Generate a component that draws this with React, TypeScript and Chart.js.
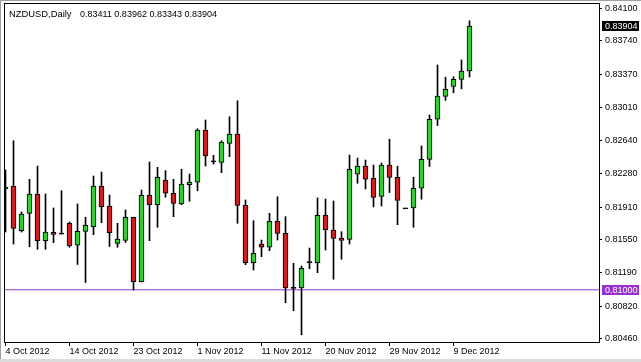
import React, { useEffect, useRef } from 'react';
import { Chart, registerables } from 'chart.js';

Chart.register(...registerables);

const FONT = '"Liberation Sans", Arial, Helvetica, sans-serif';

const symbolTitle = 'NZDUSD,Daily';
const titleValues = '0.83411 0.83962 0.83343 0.83904';

const dates = [
  '4 Oct 2012', '5 Oct 2012', '7 Oct 2012', '8 Oct 2012', '9 Oct 2012', '10 Oct 2012', '11 Oct 2012', '12 Oct 2012',
  '14 Oct 2012', '15 Oct 2012', '16 Oct 2012', '17 Oct 2012', '18 Oct 2012', '19 Oct 2012', '21 Oct 2012', '22 Oct 2012',
  '23 Oct 2012', '24 Oct 2012', '25 Oct 2012', '26 Oct 2012', '28 Oct 2012', '29 Oct 2012', '30 Oct 2012', '31 Oct 2012',
  '1 Nov 2012', '2 Nov 2012', '4 Nov 2012', '5 Nov 2012', '6 Nov 2012', '7 Nov 2012', '8 Nov 2012', '9 Nov 2012',
  '11 Nov 2012', '12 Nov 2012', '13 Nov 2012', '14 Nov 2012', '15 Nov 2012', '16 Nov 2012', '18 Nov 2012', '19 Nov 2012',
  '20 Nov 2012', '21 Nov 2012', '22 Nov 2012', '23 Nov 2012', '25 Nov 2012', '26 Nov 2012', '27 Nov 2012', '28 Nov 2012',
  '29 Nov 2012', '30 Nov 2012', '2 Dec 2012', '3 Dec 2012', '4 Dec 2012', '5 Dec 2012', '6 Dec 2012', '7 Dec 2012',
  '9 Dec 2012', '10 Dec 2012', '11 Dec 2012',
];

const opens = [
  0.82110, 0.82143, 0.81651, 0.81842, 0.82055, 0.81541, 0.81633, 0.81620,
  0.81732, 0.81490, 0.81644, 0.81695, 0.82143, 0.81923, 0.81512, 0.81543,
  0.81798, 0.81089, 0.82041, 0.81937, 0.82209, 0.82063, 0.81945, 0.82157,
  0.82184, 0.82760, 0.82415, 0.82404, 0.82613, 0.82716, 0.81930, 0.81298,
  0.81504, 0.81468, 0.81754, 0.81622, 0.81020, 0.81020, 0.81306, 0.81298,
  0.81824, 0.81658, 0.81570, 0.81556, 0.82272, 0.82363, 0.82228, 0.82027,
  0.82372, 0.82238, 0.81897, 0.81901, 0.82118, 0.82437, 0.82878, 0.83129,
  0.83239, 0.83318, 0.83411,
];

const highs = [
  0.82319, 0.82642, 0.81857, 0.82217, 0.82363, 0.82055, 0.81901, 0.82091,
  0.81747, 0.81945, 0.81798, 0.82253, 0.82297, 0.82044, 0.81732, 0.81879,
  0.81800, 0.82099, 0.82407, 0.82349, 0.82312, 0.82217, 0.82327, 0.82275,
  0.82774, 0.82870, 0.82481, 0.82642, 0.82906, 0.83082, 0.81989, 0.81761,
  0.81548, 0.81842, 0.82025, 0.81805, 0.81292, 0.81262, 0.81460, 0.82011,
  0.81999, 0.81978, 0.81640, 0.82484, 0.82451, 0.82429, 0.82374, 0.82396,
  0.82658, 0.82361, 0.81899, 0.82239, 0.82584, 0.82925, 0.83476, 0.83341,
  0.83346, 0.83531, 0.83962,
];

const lows = [
  0.81636, 0.81504, 0.81636, 0.81475, 0.81446, 0.81446, 0.81519, 0.81614,
  0.81468, 0.81279, 0.81080, 0.81607, 0.81739, 0.81477, 0.81468, 0.81521,
  0.80998, 0.81087, 0.81541, 0.81688, 0.82019, 0.81805, 0.81937, 0.81975,
  0.82091, 0.82363, 0.82385, 0.82290, 0.82466, 0.81732, 0.81276, 0.81218,
  0.81364, 0.81430, 0.81548, 0.80858, 0.80770, 0.80505, 0.81232, 0.81188,
  0.81438, 0.81116, 0.81336, 0.81504, 0.82173, 0.82110, 0.81912, 0.81923,
  0.82071, 0.81717, 0.81895, 0.81688, 0.81997, 0.82358, 0.82809, 0.83085,
  0.83169, 0.83213, 0.83343,
];

const closes = [
  0.82132, 0.81677, 0.81835, 0.82055, 0.81541, 0.81636, 0.81611, 0.81619,
  0.81482, 0.81644, 0.81710, 0.82143, 0.81915, 0.81629, 0.81559, 0.81798,
  0.81089, 0.82041, 0.81937, 0.82239, 0.82063, 0.81952, 0.82165, 0.82187,
  0.82760, 0.82473, 0.82415, 0.82628, 0.82716, 0.81930, 0.81298, 0.81402,
  0.81468, 0.81754, 0.81622, 0.81020, 0.81020, 0.81237, 0.81306, 0.81820,
  0.81658, 0.81567, 0.81545, 0.82327, 0.82363, 0.82217, 0.82016, 0.82372,
  0.82237, 0.81983, 0.81896, 0.82118, 0.82437, 0.82878, 0.83134, 0.83208,
  0.83318, 0.83408, 0.83904,
];

const yTickValues = [0.841, 0.8374, 0.8337, 0.8301, 0.8264, 0.8228, 0.8191, 0.8155, 0.8119, 0.8082, 0.8046];
const levelPrice = 0.81;
const lastPrice = closes[closes.length - 1];

const GREEN = '#32cd32';
const RED = '#cc1f1f';
const LEVEL_COLOR = '#9932cc';

const X_MIN = -0.1875;
const X_MAX = 74.1875;
const Y_MIN = 0.80425;
const Y_MAX = 0.841473;

const bodyData = dates.map((_, i) => {
  let lo = Math.min(opens[i], closes[i]);
  let hi = Math.max(opens[i], closes[i]);
  if (hi - lo < 0.00012) {
    const m = (hi + lo) / 2;
    lo = m - 0.00006;
    hi = m + 0.00006;
  }
  return { x: i, y: [lo, hi] };
});

const bodyColors = dates.map((_, i) =>
  Math.abs(closes[i] - opens[i]) < 0.00005 ? '#000000' : closes[i] > opens[i] ? GREEN : RED
);

const wickData = dates.map((_, i) => ({ x: i, y: [lows[i], highs[i]] }));

const framePlugin = {
  id: 'frame',
  afterDraw(chart: any) {
    const { ctx, chartArea, width, height } = chart;
    ctx.save();
    ctx.strokeStyle = '#000';
    ctx.lineWidth = 1;
    ctx.strokeRect(chartArea.left + 0.5, chartArea.top - 0.5, chartArea.right - chartArea.left, chartArea.bottom - chartArea.top + 1);
    // window edges
    ctx.fillStyle = '#a0a0a0';
    ctx.fillRect(0, 0, width, 1);
    ctx.fillRect(0, 0, 1, height);
    ctx.fillStyle = '#dcdcdc';
    ctx.fillRect(0, height - 3, width, 3);
    ctx.restore();
  },
};

const tagPlugin = {
  id: 'priceTags',
  afterDraw(chart: any) {
    const { ctx, chartArea } = chart;
    const y = chart.scales.y;
    const tags = [
      { value: lastPrice, bg: '#000000', fg: '#ffffff' },
      { value: levelPrice, bg: LEVEL_COLOR, fg: '#ffffff' },
    ];
    ctx.save();
    ctx.font = `9px ${FONT}`;
    ctx.textBaseline = 'middle';
    ctx.textAlign = 'left';
    for (const t of tags) {
      const py = Math.round(y.getPixelForValue(t.value));
      ctx.fillStyle = t.bg;
      ctx.fillRect(chartArea.right + 3, py - 5, 37, 10);
      ctx.fillStyle = t.fg;
      ctx.fillText(t.value.toFixed(5), chartArea.right + 6, py + 0.5);
    }
    ctx.restore();
  },
};

export default function App() {
  const ref = useRef<HTMLCanvasElement>(null);

  useEffect(() => {
    const canvas = ref.current;
    if (!canvas) return;
    const chart = new Chart(canvas, {
      type: 'bar',
      data: {
        datasets: [
          {
            type: 'bar',
            label: 'body',
            data: bodyData as any,
            backgroundColor: bodyColors,
            borderColor: '#000000',
            borderWidth: 1,
            borderSkipped: false,
            barThickness: 5,
            grouped: false,
            order: 0,
          } as any,
          {
            type: 'bar',
            label: 'wick',
            data: wickData as any,
            backgroundColor: '#000000',
            borderWidth: 0,
            barThickness: 1,
            grouped: false,
            order: 1,
          } as any,
          {
            type: 'line',
            label: 'level',
            data: [
              { x: X_MIN, y: levelPrice },
              { x: X_MAX, y: levelPrice },
            ],
            borderColor: LEVEL_COLOR,
            borderWidth: 1,
            pointRadius: 0,
            order: 2,
          } as any,
        ],
      },
      options: {
        responsive: false,
        animation: false,
        events: [],
        layout: { padding: { left: 4, top: 4, right: 0, bottom: 0 } },
        plugins: {
          legend: { display: false },
          tooltip: { enabled: false },
          title: { display: false },
        },
        scales: {
          x: {
            type: 'linear',
            min: X_MIN,
            max: X_MAX,
            offset: false,
            border: { display: false },
            grid: {
              offset: false,
              drawOnChartArea: false,
              drawTicks: true,
              tickLength: 4,
              color: (c: any) => (c.tick && dates[c.tick.value] !== undefined ? '#000000' : 'rgba(0,0,0,0)'),
            },
            ticks: {
              stepSize: 8,
              includeBounds: false,
              autoSkip: false,
              maxRotation: 0,
              minRotation: 0,
              align: 'start',
              padding: 0,
              color: '#000000',
              font: { family: FONT, size: 9 },
              callback: (v: any) => dates[v as number] ?? '',
            },
            afterFit: (s: any) => {
              s.height = 20;
              s.paddingLeft = 0;
              s.paddingRight = 0;
            },
          } as any,
          y: {
            type: 'linear',
            position: 'right',
            min: Y_MIN,
            max: Y_MAX,
            border: { display: false },
            grid: { drawOnChartArea: false, tickLength: 3, color: '#000000' },
            ticks: {
              padding: 3,
              color: '#000000',
              font: { family: FONT, size: 9 },
              callback: (v: any) => Number(v).toFixed(5),
            },
            afterBuildTicks: (s: any) => {
              s.ticks = yTickValues.map((v) => ({ value: v }));
            },
            afterFit: (s: any) => {
              s.width = 42;
              s.paddingTop = 0;
              s.paddingBottom = 0;
            },
          } as any,
        },
      },
      plugins: [framePlugin, tagPlugin],
    });
    return () => chart.destroy();
  }, []);

  return (
    <div style={{ position: 'fixed', left: 0, top: 0, width: 641, height: 362, background: '#ffffff', overflow: 'hidden' }}>
      <canvas ref={ref} width={641} height={362} style={{ display: 'block', width: 641, height: 362 }} />
      <div style={{ position: 'absolute', left: 9, top: 7.5, fontFamily: FONT, fontSize: '9.4px', lineHeight: '12px', whiteSpace: 'pre', color: '#000' }}>
        {symbolTitle}
      </div>
      <div style={{ position: 'absolute', left: 80, top: 7.5, fontFamily: FONT, fontSize: '9px', lineHeight: '12px', whiteSpace: 'pre', color: '#000' }}>
        {titleValues}
      </div>
    </div>
  );
}
